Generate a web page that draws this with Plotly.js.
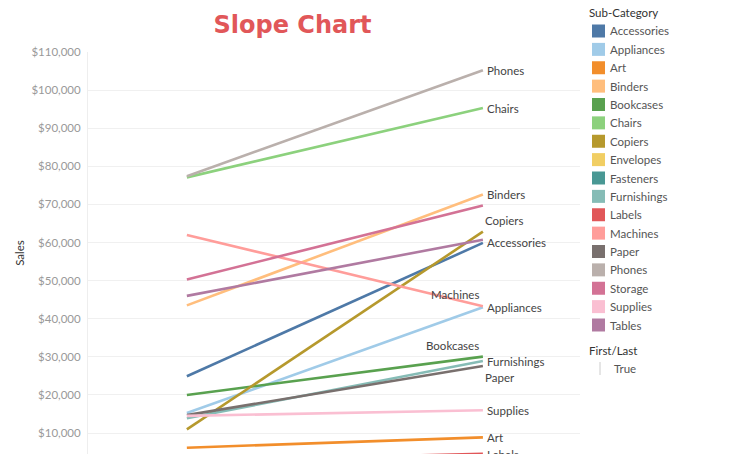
<!DOCTYPE html>
<html>
<head>
<meta charset="utf-8">
<script src="https://cdn.plot.ly/plotly-3.0.1.min.js"></script>
<style>html,body{margin:0;padding:0;background:#fff;}#chart{width:736px;height:454px;}</style>
</head>
<body>
<div id="chart"></div>
<script>
// ---- data ----
const periods = ["First", "Last"];
const subCategories = ["Accessories","Appliances","Art","Binders","Bookcases","Chairs","Copiers","Envelopes","Fasteners","Furnishings","Labels","Machines","Paper","Phones","Storage","Supplies","Tables"];
const firstSales = [24900, 15250, 6150, 43500, 20000, 77100, 10950, 3600, 700, 13900, 2800, 62000, 14700, 77400, 50300, 14500, 46000];
const lastSales  = [59900, 43000, 8870, 72600, 30050, 95300, 62850, 4100, 950, 28900, 4520, 43300, 27600, 105200, 69700, 16000, 60750];
const colors = ["#4E79A7","#A0CBE8","#F28E2B","#FFBE7D","#59A14F","#8CD17D","#B6992D","#F1CE63","#499894","#86BCB6","#E15759","#FF9D9A","#79706E","#BAB0AC","#D37295","#FABFD2","#B07AA1"];
const yTicks = [10000,20000,30000,40000,50000,60000,70000,80000,90000,100000,110000];

// label placement styles (offsets in px); null = label hidden
const labelStyle = {
  "Copiers":   {xanchor:"left",  xshift:0,  yshift:11},
  "Machines":  {xanchor:"right", xshift:-2, yshift:12},
  "Bookcases": {xanchor:"right", xshift:-2, yshift:11},
  "Paper":     {xanchor:"left",  xshift:0,  yshift:-12},
  "Labels":    {xanchor:"left",  xshift:2,  yshift:-1},
  "Storage": null, "Tables": null, "Envelopes": null, "Fasteners": null
};

// ---- geometry helpers for the hand-drawn legend ----
const W = 736, H = 454, mL = 88, mR = 156, mT = 52, mB = 0;
const pw = W - mL - mR, ph = H - mT - mB;
const px2x = p => (p - mL) / pw;
const px2y = p => 1 - (p - mT) / ph;

const traces = subCategories.map((name, i) => ({
  type: "scatter", mode: "lines", name: name,
  x: periods, y: [firstSales[i], lastSales[i]],
  line: {color: colors[i], width: 2.6},
  showlegend: false, hoverinfo: "name+y"
}));

const font = "Lato, 'Open Sans', sans-serif";
const annotations = [];
const shapes = [];

subCategories.forEach((name, i) => {
  if (labelStyle[name] === null) return;
  const st = labelStyle[name] || {xanchor:"left", xshift:2, yshift:0};
  annotations.push({
    x: periods[1], y: lastSales[i], xref: "x", yref: "y",
    text: name, showarrow: false, xanchor: st.xanchor, yanchor: "middle",
    xshift: st.xshift, yshift: st.yshift,
    font: {family: font, size: 11.5, color: "#444"}
  });
});

// legend
annotations.push({xref:"paper", yref:"paper", x: px2x(587), y: px2y(12), xanchor:"left", yanchor:"middle",
  text:"Sub-Category", showarrow:false, font:{family:font, size:11.5, color:"#333"}});
subCategories.forEach((name, i) => {
  const cy = 31 + i * 18.375;
  shapes.push({type:"rect", xref:"paper", yref:"paper", x0: px2x(592), x1: px2x(605), y0: px2y(cy-6.5), y1: px2y(cy+6.5),
    fillcolor: colors[i], line:{width:0}});
  annotations.push({xref:"paper", yref:"paper", x: px2x(608), y: px2y(cy), xanchor:"left", yanchor:"middle",
    text: name, showarrow:false, font:{family:font, size:11.5, color:"#555"}});
});
annotations.push({xref:"paper", yref:"paper", x: px2x(587), y: px2y(350), xanchor:"left", yanchor:"middle",
  text:"First/Last", showarrow:false, font:{family:font, size:11.5, color:"#333"}});
annotations.push({xref:"paper", yref:"paper", x: px2x(612), y: px2y(368), xanchor:"left", yanchor:"middle",
  text:"True", showarrow:false, font:{family:font, size:11.5, color:"#555"}});
shapes.push({type:"line", xref:"paper", yref:"paper", x0: px2x(600), x1: px2x(600), y0: px2y(362), y1: px2y(375),
  line:{color:"#cccccc", width:1}});

const layout = {
  width: W, height: H,
  margin: {l: mL, r: mR, t: mT, b: mB, pad: 0},
  paper_bgcolor: "#fff", plot_bgcolor: "#fff",
  showlegend: false,
  title: {text: "Slope Chart", x: 292.5 / W, xanchor: "center", xref: "container",
          y: 1 - 25 / H, yanchor: "middle", yref: "container",
          font: {family: "DejaVu Sans", size: 24, color: "#E15759", weight: "bold"}},
  xaxis: {type: "category", range: [-0.334, 1.328], showgrid: false, zeroline: false,
          showticklabels: false, showline: false, ticks: ""},
  yaxis: {range: [4500, 110000], tickvals: yTicks, tickformat: "$,.0f",
          showgrid: true, gridcolor: "#f0f0f0", gridwidth: 1, zeroline: false,
          showline: true, linecolor: "#eeeeee", linewidth: 1, ticks: "", ticklabelstandoff: 4,
          tickfont: {family: font, size: 11.5, color: "#999"},
          title: {text: "Sales", standoff: 4, font: {family: font, size: 11.5, color: "#333"}}},
  annotations: annotations, shapes: shapes,
  font: {family: font}
};

Plotly.newPlot("chart", traces, layout, {displayModeBar: false, staticPlot: true});
</script>
</body>
</html>
